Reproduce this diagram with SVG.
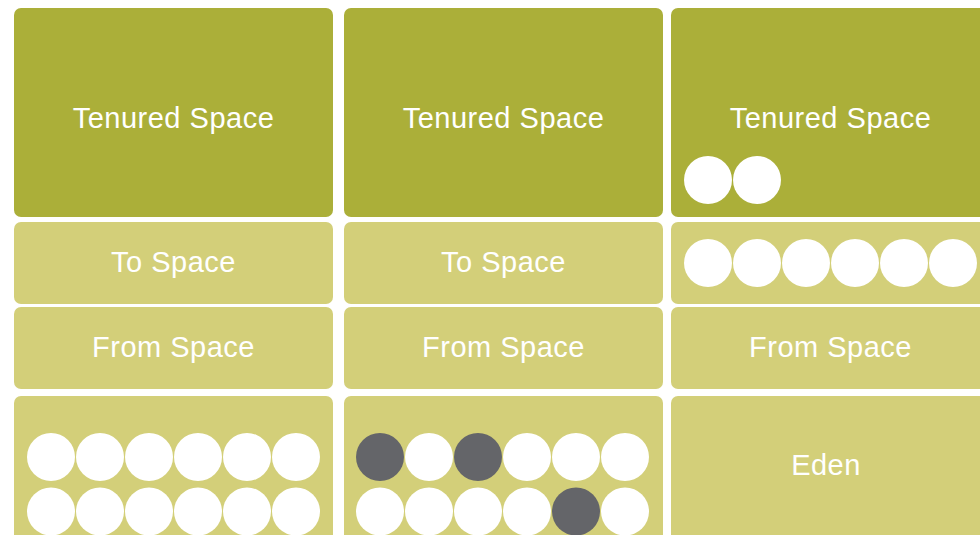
<svg xmlns="http://www.w3.org/2000/svg" width="980" height="535" viewBox="0 0 980 535">
<style>
.ten{fill:#abaf39}
.lt{fill:#d3cf79}
.lbl{font-family:"Liberation Sans",Arial,sans-serif;font-size:29px;fill:#ffffff;text-anchor:middle;letter-spacing:0.5px}
.w{fill:#ffffff}
.d{fill:#646569}
</style>
<rect width="980" height="535" fill="#ffffff"/>
<g id="col1">
<g id="c1-tenured"><rect class="ten" x="14" y="8" width="319" height="209" rx="7"/><text class="lbl" x="173.5" y="128">Tenured Space</text></g>
<g id="c1-to"><rect class="lt" x="14" y="222" width="319" height="82" rx="7"/><text class="lbl" x="173.5" y="272">To Space</text></g>
<g id="c1-from"><rect class="lt" x="14" y="307" width="319" height="82" rx="7"/><text class="lbl" x="173.5" y="357">From Space</text></g>
<g id="c1-eden"><rect class="lt" x="14" y="396" width="319" height="160" rx="7"/>
<g class="w">
<circle cx="51" cy="457" r="24"/><circle cx="100" cy="457" r="24"/><circle cx="149" cy="457" r="24"/><circle cx="198" cy="457" r="24"/><circle cx="247" cy="457" r="24"/><circle cx="296" cy="457" r="24"/>
<circle cx="51" cy="511.5" r="24"/><circle cx="100" cy="511.5" r="24"/><circle cx="149" cy="511.5" r="24"/><circle cx="198" cy="511.5" r="24"/><circle cx="247" cy="511.5" r="24"/><circle cx="296" cy="511.5" r="24"/>
</g></g>
</g>
<g id="col2">
<g id="c2-tenured"><rect class="ten" x="344" y="8" width="319" height="209" rx="7"/><text class="lbl" x="503.5" y="128">Tenured Space</text></g>
<g id="c2-to"><rect class="lt" x="344" y="222" width="319" height="82" rx="7"/><text class="lbl" x="503.5" y="272">To Space</text></g>
<g id="c2-from"><rect class="lt" x="344" y="307" width="319" height="82" rx="7"/><text class="lbl" x="503.5" y="357">From Space</text></g>
<g id="c2-eden"><rect class="lt" x="344" y="396" width="319" height="160" rx="7"/>
<circle class="d" cx="380" cy="457" r="24"/><circle class="w" cx="429" cy="457" r="24"/><circle class="d" cx="478" cy="457" r="24"/><circle class="w" cx="527" cy="457" r="24"/><circle class="w" cx="576" cy="457" r="24"/><circle class="w" cx="625" cy="457" r="24"/>
<circle class="w" cx="380" cy="511.5" r="24"/><circle class="w" cx="429" cy="511.5" r="24"/><circle class="w" cx="478" cy="511.5" r="24"/><circle class="w" cx="527" cy="511.5" r="24"/><circle class="d" cx="576" cy="511.5" r="24"/><circle class="w" cx="625" cy="511.5" r="24"/>
</g>
</g>
<g id="col3">
<g id="c3-tenured"><rect class="ten" x="671" y="8" width="330" height="209" rx="7"/><text class="lbl" x="830.5" y="128">Tenured Space</text>
<circle class="w" cx="708" cy="180" r="24"/><circle class="w" cx="757" cy="180" r="24"/></g>
<g id="c3-to"><rect class="lt" x="671" y="222" width="330" height="82" rx="7"/>
<circle class="w" cx="708" cy="263" r="24"/><circle class="w" cx="757" cy="263" r="24"/><circle class="w" cx="806" cy="263" r="24"/><circle class="w" cx="855" cy="263" r="24"/><circle class="w" cx="904" cy="263" r="24"/><circle class="w" cx="953" cy="263" r="24"/></g>
<g id="c3-from"><rect class="lt" x="671" y="307" width="330" height="82" rx="7"/><text class="lbl" x="830.5" y="357">From Space</text></g>
<g id="c3-eden"><rect class="lt" x="671" y="396" width="330" height="160" rx="7"/><text class="lbl" x="826" y="475">Eden</text></g>
</g>
<g id="connectors"/>
</svg>
